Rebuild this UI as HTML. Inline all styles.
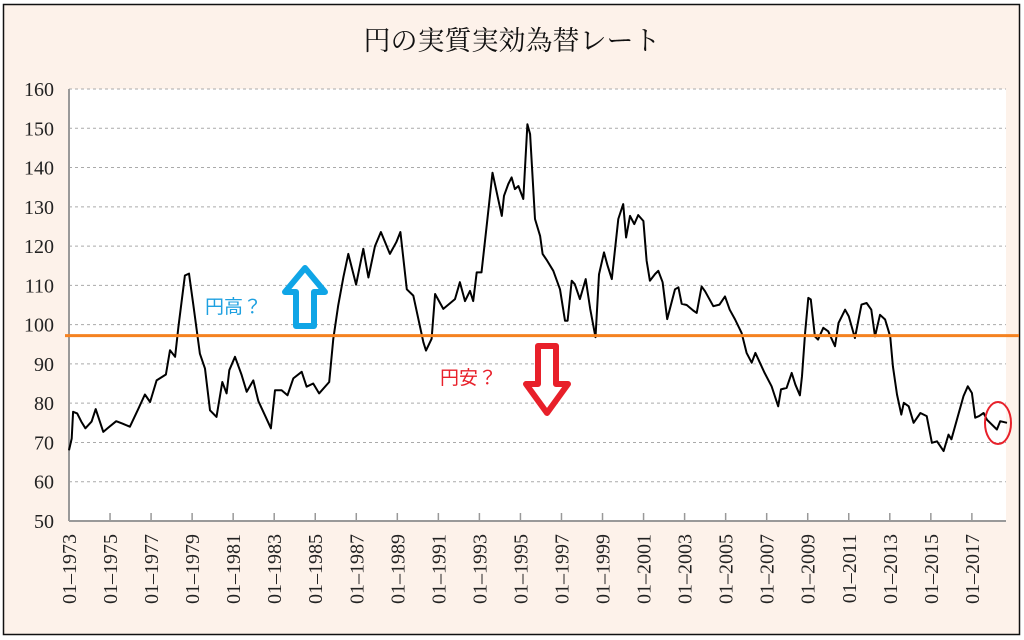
<!DOCTYPE html>
<html><head><meta charset="utf-8"><style>
body{margin:0;background:#fff;width:1024px;height:640px;overflow:hidden}
svg{display:block}
</style></head><body>
<svg id="c" width="1024" height="640" xmlns="http://www.w3.org/2000/svg">
<rect x="3.5" y="4.5" width="1016" height="630" fill="#fdf2ea" stroke="#111" stroke-width="1.5"/>
<text x="512" y="50" text-anchor="middle" font-family="'Liberation Serif','Noto Serif CJK SC',serif" font-size="27" fill="#111">円の実質実効為替レート</text>
<rect x="69" y="89" width="937" height="432" fill="#fff"/>
<g id="grid"></g><g id="yt"></g><g id="xt"></g>
<line x1="69" y1="89" x2="69" y2="521" stroke="#999" stroke-width="2"/>
<line x1="69" y1="521" x2="1006" y2="521" stroke="#999" stroke-width="2"/>
<path id="ln" fill="none" stroke="#000" stroke-width="2" stroke-linejoin="round"/>
<line id="ref" x1="65" x2="1019" stroke="#f58220" stroke-width="3"/>
<text x="205" y="313" font-family="'Liberation Sans','Noto Sans CJK JP',sans-serif" font-size="19" fill="#1ea0e0">円高？</text>
<path d="M305 268 L325 292 L314 292 L314 326 L296 326 L296 292 L285 292 Z" fill="#fff" stroke="#10a5e6" stroke-width="6" stroke-linejoin="round"/>
<text x="440" y="384" font-family="'Liberation Sans','Noto Sans CJK JP',sans-serif" font-size="19" fill="#e8202a">円安？</text>
<path d="M538 346 L556 346 L556 384 L568 384 L547 413 L526 384 L538 384 Z" fill="#fff" stroke="#e8202a" stroke-width="6" stroke-linejoin="round"/>
<ellipse cx="998" cy="423" rx="13" ry="21" fill="none" stroke="#e8202a" stroke-width="2"/>
</svg>
<script>
const dates=[1973.0,1973.13,1973.2,1973.4,1973.6,1973.8,1974.1,1974.3,1974.67,1974.9,1975.3,1975.6,1975.97,1976.38,1976.7,1976.95,1977.27,1977.72,1977.92,1978.17,1978.33,1978.65,1978.85,1979.06,1979.38,1979.63,1979.87,1980.19,1980.47,1980.68,1980.81,1981.09,1981.41,1981.66,1981.98,1982.23,1982.55,1982.84,1983.04,1983.36,1983.65,1983.93,1984.34,1984.58,1984.9,1985.19,1985.68,1985.88,1986.12,1986.37,1986.61,1986.99,1987.34,1987.59,1987.91,1988.2,1988.64,1988.95,1989.15,1989.46,1989.78,1990.27,1990.4,1990.67,1990.84,1991.24,1991.81,1992.05,1992.3,1992.54,1992.7,1992.87,1993.1,1993.38,1993.64,1994.09,1994.2,1994.41,1994.57,1994.73,1994.9,1995.14,1995.34,1995.47,1995.71,1995.96,1996.08,1996.3,1996.6,1996.93,1997.17,1997.3,1997.5,1997.65,1997.9,1998.18,1998.4,1998.66,1998.83,1999.07,1999.25,1999.45,1999.77,2000.01,2000.15,2000.34,2000.55,2000.74,2000.99,2001.15,2001.31,2001.56,2001.72,2001.93,2002.15,2002.53,2002.7,2002.86,2003.1,2003.42,2003.59,2003.83,2004.0,2004.4,2004.7,2004.97,2005.2,2005.46,2005.78,2006.02,2006.27,2006.45,2006.67,2006.9,2007.24,2007.56,2007.7,2007.97,2008.22,2008.4,2008.62,2008.72,2008.87,2009.03,2009.15,2009.35,2009.5,2009.76,2010.0,2010.33,2010.5,2010.82,2011.0,2011.3,2011.62,2011.87,2012.1,2012.28,2012.52,2012.77,2013.02,2013.15,2013.35,2013.56,2013.68,2013.92,2014.16,2014.49,2014.8,2015.05,2015.3,2015.62,2015.86,2016.0,2016.27,2016.59,2016.8,2017.0,2017.16,2017.35,2017.57,2017.73,2018.22,2018.38,2018.71];
const values=[68,71,77.8,77.4,75.3,73.6,75.3,78.5,72.7,73.7,75.4,74.8,74,78.6,82.2,80.3,85.8,87.3,93.5,91.8,99.4,112.5,113,104.9,92.6,88.8,78.2,76.5,85.4,82.5,88.4,91.8,87.2,82.9,85.8,80.5,76.9,73.6,83.3,83.3,82,86.3,88,84.2,85,82.5,85.4,96.4,104.9,112.1,118,110.2,119.3,112,120,123.6,118,121,123.6,109,107.4,95.5,93.4,96.4,107.8,104,106.5,110.8,106,108.6,106,113.3,113.3,126.4,138.7,127.7,132.8,135.8,137.5,134.5,135.3,132,151,148.5,126.9,122.6,118,116.3,113.7,109,101,101,111.2,110.3,106.5,111.6,104,96.8,112.8,118.4,115,111.6,126.9,130.7,122.2,127.7,125.6,127.9,126.4,116.3,111.2,112.9,113.7,110.8,101.4,109,109.5,105.3,105,103.6,103,109.7,108.5,104.7,105.1,107.2,103.8,101.3,97.9,92.8,90.3,92.8,90.3,87.7,84.3,79.2,83.5,83.9,87.7,84.7,82,86.9,97.9,106.8,106.4,97,96.2,99.2,98.3,94.5,100.4,103.8,102.1,96.6,105.1,105.5,103.8,97,102.5,101.3,97,89.4,82.2,77.1,80.1,79.2,75,77.5,76.7,69.9,70.3,67.8,72,70.8,75.8,81.8,84.3,82.6,76.3,76.7,77.5,75.8,73.3,75.4,75];
const yTicks=[50,60,70,80,90,100,110,120,130,140,150,160];
const xTickYears=[1973,1975,1977,1979,1981,1983,1985,1987,1989,1991,1993,1995,1997,1999,2001,2003,2005,2007,2009,2011,2013,2015,2017];
const refValue=97.2;
const NS='http://www.w3.org/2000/svg';
const X=t=>69+(t-1973)*20.52;
const Y=v=>521-(v-50)*(432/110);
const grid=document.getElementById('grid'),yt=document.getElementById('yt'),xt=document.getElementById('xt');
yTicks.forEach(v=>{
 if(v>50){const l=document.createElementNS(NS,'line');
 l.setAttribute('x1',69);l.setAttribute('x2',1006);l.setAttribute('y1',Y(v));l.setAttribute('y2',Y(v));
 l.setAttribute('stroke','#aaa');l.setAttribute('stroke-dasharray','3,3');
 
 
 grid.appendChild(l);}
 const t=document.createElementNS(NS,'text');
 t.setAttribute('x',54);t.setAttribute('y',Y(v)+7);t.setAttribute('text-anchor','end');
 t.setAttribute('font-family',"'Liberation Serif',serif");t.setAttribute('font-size','20');t.setAttribute('fill','#222');
 t.textContent=v;
 
 
 yt.appendChild(t);
});
xTickYears.forEach(yr=>{
 const x=X(yr);
 if(yr>1973){const l=document.createElementNS(NS,'line');
 l.setAttribute('x1',x);l.setAttribute('x2',x);l.setAttribute('y1',513);l.setAttribute('y2',521);
 l.setAttribute('stroke','#999');l.setAttribute('stroke-width','1.5');
 
 
 xt.appendChild(l);}
 const t=document.createElementNS(NS,'text');
 t.setAttribute('transform','translate('+(x+7)+',534) rotate(-90)');
 t.setAttribute('text-anchor','end');
 t.setAttribute('font-family',"'Liberation Serif',serif");t.setAttribute('font-size','20');t.setAttribute('fill','#222');
 t.textContent='01–'+yr;
 
 
 xt.appendChild(t);
});
let d='';dates.forEach((t,i)=>{d+=(i?'L':'M')+X(t).toFixed(1)+' '+Y(values[i]).toFixed(1)+' ';});
document.getElementById('ln').setAttribute('d',d);
const r=document.getElementById('ref');r.setAttribute('y1',Y(refValue));r.setAttribute('y2',Y(refValue));
</script>
</body></html>
